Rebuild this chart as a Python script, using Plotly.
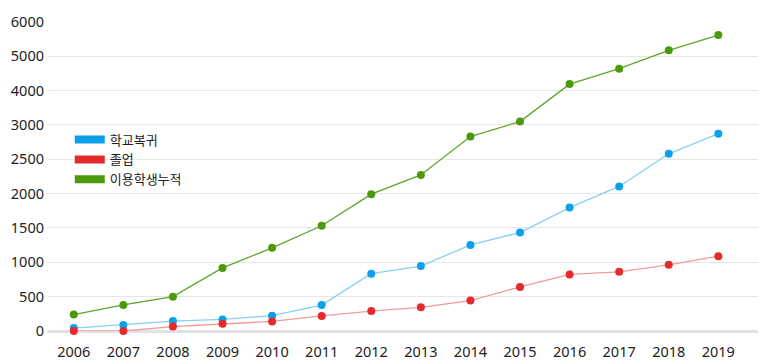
import numpy as np
import plotly.graph_objects as go

years = [str(y) for y in range(2006, 2020)]
return_school = [42, 88, 144, 168, 223, 377, 834, 945, 1253, 1434, 1797, 2105, 2580, 2873]
graduation = [0, 0, 65, 107, 140, 220, 290, 345, 443, 642, 824, 862, 964, 1089]
cumulative = [240, 380, 500, 918, 1211, 1532, 1993, 2272, 2831, 3100, 4190, 4640, 5175, 5620]
y_tick_labels = [0, 500, 1000, 1500, 2000, 2500, 3000, 4000, 5000, 6000]

series_names = ["학교복귀", "졸업", "이용학생누적"]
line_colors = ["#86d0f2", "#f29a9a", "#5ea62a"]
marker_colors = ["#0ca0ea", "#e52a2e", "#4a9a0c"]

tick_idx = list(range(len(y_tick_labels)))


def to_axis(vals):
    # the y axis is piecewise: equal spacing between listed tick labels
    return np.interp(vals, y_tick_labels, tick_idx)


font_family = "Noto Sans, Noto Sans CJK KR, sans-serif"
fig = go.Figure()
for name, vals, lc, mc in zip(series_names, [return_school, graduation, cumulative], line_colors, marker_colors):
    fig.add_trace(go.Scatter(
        x=years, y=to_axis(vals), customdata=vals, name=name,
        mode="lines+markers", line=dict(color=lc, width=1.3),
        marker=dict(color=mc, size=8), cliponaxis=False, showlegend=False,
        hovertemplate="%{x}: %{customdata}<extra>" + name + "</extra>"))
for name, mc in zip(series_names, marker_colors):
    fig.add_trace(go.Scatter(x=[None], y=[None], name=name, mode="lines",
                             line=dict(color=mc, width=8), showlegend=True))

fig.update_layout(
    width=759, height=356,
    margin=dict(l=35, r=9, t=3, b=30),
    paper_bgcolor="white", plot_bgcolor="white",
    font=dict(family=font_family, size=14.5, color="#222222"),
    showlegend=True,
    legend=dict(x=0.032, y=0.666, xanchor="left", yanchor="top",
                bgcolor="rgba(0,0,0,0)", font=dict(family="Noto Sans CJK KR", size=13, color="#222222"),
                itemwidth=30, tracegroupgap=0),
    xaxis=dict(type="category", range=[-0.54, 13.8], showgrid=False, zeroline=False,
               showline=False, ticks="", tickfont=dict(size=14.5), ticklabelstandoff=10),
    yaxis=dict(range=[0, 9.028], tickvals=tick_idx, ticktext=[str(v) for v in y_tick_labels],
               showgrid=True, gridcolor="#e6e6e6", gridwidth=1, ticklabeloverflow="allow",
               zeroline=True, zerolinecolor="#e2e2e2", zerolinewidth=3,
               showline=False, ticks="", tickfont=dict(size=14.5), ticklabelstandoff=2),
)
fig.write_html("out.html")
